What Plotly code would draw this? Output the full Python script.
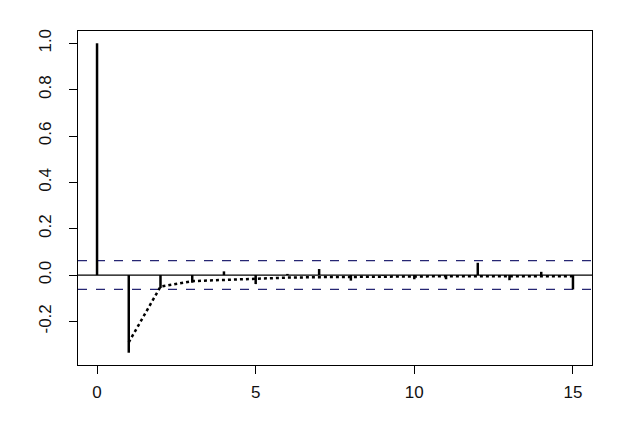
import plotly.graph_objects as go

lags = list(range(0, 16))
acf_values = [1.0, -0.335, -0.056, -0.033, 0.016, -0.039, 0.005, 0.026,
              -0.024, -0.003, -0.018, -0.018, 0.053, -0.022, 0.014, -0.062]
dotted_lags = list(range(1, 16))
dotted_values = [-0.29, -0.05, -0.026, -0.02, -0.015, -0.011, -0.009, -0.007,
                 -0.006, -0.006, -0.005, -0.005, -0.005, -0.005, -0.005]
ci_bound = 0.062
x_ticks = [0, 5, 10, 15]
y_ticks = [-0.2, 0.0, 0.2, 0.4, 0.6, 0.8, 1.0]
y_ticklabels = ["-0.2", "0.0", "0.2", "0.4", "0.6", "0.8", "1.0"]

stick_x, stick_y = [], []
for lag, v in zip(lags, acf_values):
    stick_x += [lag, lag, None]
    stick_y += [0, v, None]

fig = go.Figure()
fig.add_trace(go.Scatter(x=stick_x, y=stick_y, mode="lines",
                         line=dict(color="black", width=2.5), hoverinfo="skip"))
fig.add_trace(go.Scatter(x=dotted_lags, y=dotted_values, mode="lines",
                         line=dict(color="black", width=2.5, dash="dot"),
                         hoverinfo="skip"))

# zero line and CI lines spanning full plotting region
fig.add_shape(type="line", xref="paper", yref="y", x0=0, x1=1, y0=0, y1=0,
              line=dict(color="black", width=1.3), layer="below")
for b in (ci_bound, -ci_bound):
    fig.add_shape(type="line", xref="paper", yref="y", x0=0, x1=1, y0=b, y1=b,
                  line=dict(color="#262673", width=1.2, dash="dash"), layer="below")

font = dict(family="Liberation Sans, Arial, sans-serif", size=17, color="#111111")

fig.update_layout(
    width=632, height=421,
    margin=dict(l=70, r=48, t=23, b=64),
    paper_bgcolor="white", plot_bgcolor="white",
    showlegend=False,
    font=font,
    xaxis=dict(range=[-0.6, 15.6], tickvals=x_ticks, ticks="outside", ticklen=8,
               tickcolor="black", tickwidth=1.2, showgrid=False, zeroline=False,
               showline=True, linecolor="black", linewidth=1.3, mirror=True,
               tickfont=font, ticklabelstandoff=3),
    yaxis=dict(range=[-0.388, 1.053], tickvals=y_ticks, ticktext=y_ticklabels,
               ticks="outside", ticklen=8, tickcolor="black", tickwidth=1.2,
               showgrid=False, zeroline=False, showline=True, linecolor="black",
               linewidth=1.3, mirror=True, tickangle=-90, tickfont=font,
               ticklabelstandoff=11),
)

fig.write_html("out.html")
